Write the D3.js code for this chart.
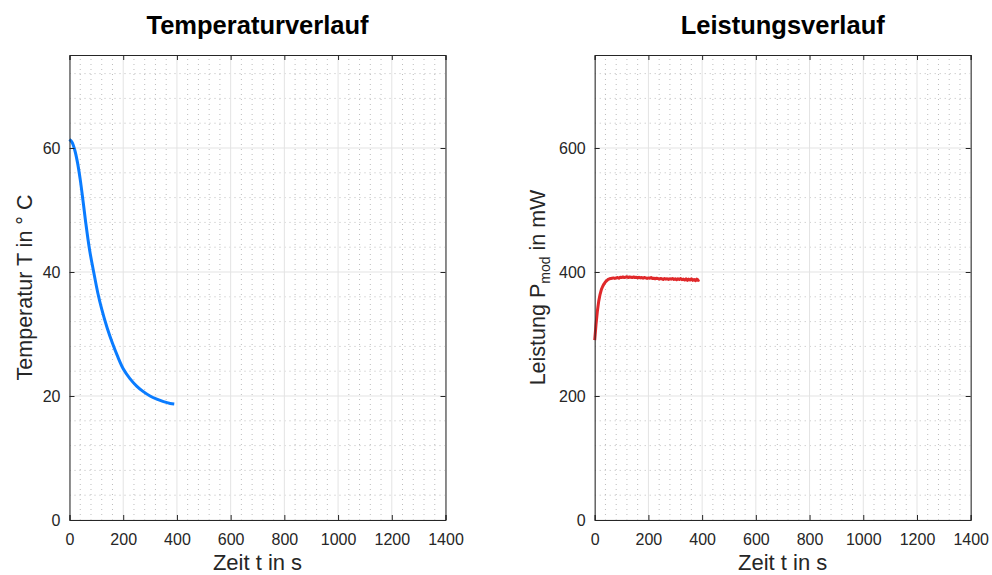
<!DOCTYPE html>
<html>
<head>
<meta charset="utf-8">
<script src="https://cdn.jsdelivr.net/npm/d3@7"></script>
<style>
body { margin: 0; background: #fff; }
text { font-family: "Liberation Sans", Arial, Helvetica, sans-serif; }
</style>
</head>
<body>
<script>
// Temperaturverlauf (t in s, T in degC)
var tempTime = [0, 10, 20, 30, 40, 50, 60, 75, 90, 105, 120, 140, 160, 180, 200, 225, 250, 275, 300, 325, 350, 375, 390];
var tempValues = [61.4, 60.9, 59.6, 57.6, 54.9, 51.6, 48.1, 43.5, 40.0, 36.7, 34.0, 31.0, 28.5, 26.3, 24.4, 22.8, 21.6, 20.7, 20.0, 19.5, 19.1, 18.8, 18.7];

// Leistungsverlauf (t in s, P in mW)
var powerTime = [0, 5, 10, 15, 20, 25, 30, 35, 40, 45, 50, 55, 60, 65, 70, 75, 80, 85, 90, 95,
  100, 105, 110, 115, 120, 125, 130, 135, 140, 145, 150, 155, 160, 165, 170, 175, 180, 185, 190, 195,
  200, 205, 210, 215, 220, 225, 230, 235, 240, 245, 250, 255, 260, 265, 270, 275, 280, 285, 290, 295,
  300, 305, 310, 315, 320, 325, 330, 335, 340, 345, 350, 355, 360, 365, 370, 375, 380, 385, 390];
var powerValues = [290, 316, 337, 353, 364, 372, 377, 381, 384, 386, 388, 389, 389.5, 390, 390.5, 389.5, 390.5, 391, 390, 391.5,
  391, 392, 391, 391.5, 392.5, 391, 392, 391.5, 391, 392, 391, 391.5, 390.5, 391.5, 390.5, 391, 390, 391, 390.5, 389.5,
  390.5, 390, 391, 389.5, 390, 389, 390, 389.5, 388.5, 389.5, 389, 388, 389.5, 388.5, 389, 388, 389, 388.5, 389.5, 388,
  389, 387.5, 389, 388, 389.5, 387.5, 388.5, 387, 389, 386.5, 388.5, 387, 389, 386.5, 388, 386, 388.5, 386.5, 387.5];

var xTicks = [0, 200, 400, 600, 800, 1000, 1200, 1400];
var tempTicks = [0, 20, 40, 60];
var powerTicks = [0, 200, 400, 600];

var W = 992, H = 575;
var svg = d3.select("body").append("svg").attr("width", W).attr("height", H);

var axColor = "#262626";

function panel(opt) {
  var x = d3.scaleLinear().domain([0, 1400]).range([opt.left, opt.left + 376]);
  var y = d3.scaleLinear().domain([0, opt.ymax]).range([520, 55]);
  var g = svg.append("g");
  var x0 = x.range()[0], x1 = x.range()[1], y0 = y.range()[0], y1 = y.range()[1];

  // minor grid (dotted)
  var xMinor = d3.range(0, 1401, 40).filter(function(v) { return v % 200 !== 0; });
  var yMinor = d3.range(0, opt.ymax + 0.001, opt.minor).filter(function(v) { return Math.abs(v % opt.major) > 1e-6; });
  g.selectAll(".mx").data(xMinor).enter().append("line")
    .attr("x1", function(d) { return x(d); }).attr("x2", function(d) { return x(d); })
    .attr("y1", y0).attr("y2", y1)
    .attr("stroke", "#bdbdbd").attr("stroke-width", 1).attr("stroke-dasharray", "1,4");
  g.selectAll(".my").data(yMinor).enter().append("line")
    .attr("y1", function(d) { return y(d); }).attr("y2", function(d) { return y(d); })
    .attr("x1", x0).attr("x2", x1)
    .attr("stroke", "#bdbdbd").attr("stroke-width", 1).attr("stroke-dasharray", "1,4");

  // major grid
  g.selectAll(".gx").data(xTicks).enter().append("line")
    .attr("x1", function(d) { return x(d); }).attr("x2", function(d) { return x(d); })
    .attr("y1", y0).attr("y2", y1)
    .attr("stroke", "#e3e3e3").attr("stroke-width", 1);
  g.selectAll(".gy").data(opt.ticks).enter().append("line")
    .attr("y1", function(d) { return y(d); }).attr("y2", function(d) { return y(d); })
    .attr("x1", x0).attr("x2", x1)
    .attr("stroke", "#e3e3e3").attr("stroke-width", 1);

  // data line
  var line = d3.line()
    .x(function(d) { return x(d[0]); })
    .y(function(d) { return y(d[1]); })
    .curve(opt.curve);
  g.append("path")
    .datum(d3.zip(opt.time, opt.values))
    .attr("d", line)
    .attr("fill", "none")
    .attr("stroke", opt.color)
    .attr("stroke-width", 3)
    .attr("stroke-linejoin", "round");

  // axes with inward ticks
  var fmt = d3.format("d");
  g.append("g").attr("transform", "translate(0," + y0 + ")")
    .call(d3.axisBottom(x).tickValues(xTicks).tickSize(-5).tickPadding(14).tickFormat(fmt));
  g.append("g").attr("transform", "translate(0," + y1 + ")")
    .call(d3.axisTop(x).tickValues(xTicks).tickSize(-5).tickFormat(""));
  g.append("g").attr("transform", "translate(" + x0 + ",0)")
    .call(d3.axisLeft(y).tickValues(opt.ticks).tickSize(-5).tickPadding(9).tickFormat(fmt));
  g.append("g").attr("transform", "translate(" + x1 + ",0)")
    .call(d3.axisRight(y).tickValues(opt.ticks).tickSize(-5).tickFormat(""));
  g.selectAll(".domain").attr("stroke", axColor).attr("stroke-width", 1);
  g.selectAll(".tick line").attr("stroke", axColor);
  g.selectAll(".tick text").attr("fill", axColor).style("font-size", "16px")
    .style("font-family", '"Liberation Sans", Arial, sans-serif');

  // title
  g.append("text").attr("x", (x0 + x1) / 2).attr("y", 34)
    .attr("text-anchor", "middle").style("font-size", "25.5px").style("font-weight", "bold")
    .attr("fill", "#000").text(opt.title);

  // x label
  g.append("text").attr("x", (x0 + x1) / 2).attr("y", 570)
    .attr("text-anchor", "middle").style("font-size", "22px")
    .attr("fill", axColor).text("Zeit t in s");

  // y label
  var yl = g.append("text")
    .attr("transform", "translate(" + (x0 - opt.labelOffset) + "," + ((y0 + y1) / 2) + ") rotate(-90)")
    .attr("text-anchor", "middle").style("font-size", "21.5px").attr("fill", axColor);
  opt.ylabel(yl);
}

panel({
  left: 69.5, ymax: 75, major: 20, minor: 4, ticks: tempTicks, labelOffset: 38,
  time: tempTime, values: tempValues, color: "#0a7cff", curve: d3.curveCatmullRom,
  title: "Temperaturverlauf",
  ylabel: function(t) { t.text("Temperatur T in \u00b0 C"); }
});

panel({
  left: 594.7, ymax: 750, major: 200, minor: 40, ticks: powerTicks, labelOffset: 50,
  time: powerTime, values: powerValues, color: "#e0282a", curve: d3.curveLinear,
  title: "Leistungsverlauf",
  ylabel: function(t) {
    t.append("tspan").text("Leistung P");
    t.append("tspan").attr("dy", 5).style("font-size", "14px").text("mod");
    t.append("tspan").attr("dy", -5).text(" in mW");
  }
});
</script>
</body>
</html>
